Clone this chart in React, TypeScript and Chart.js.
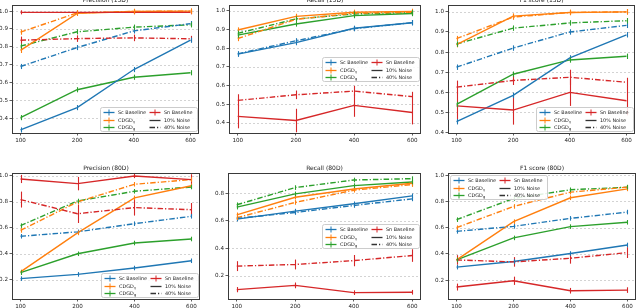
import React, { useEffect, useRef } from "react";
import { Chart, registerables } from "chart.js";
Chart.register(...registerables);

// ---------- data ----------
const sizes = ["100", "200", "400", "600"];
const topTicks = [0.4, 0.5, 0.6, 0.7, 0.8, 0.9, 1.0];
const prec80Ticks = [0.2, 0.4, 0.6, 0.8, 1.0];
const rec80Ticks = [0.2, 0.4, 0.6, 0.8];
const f180Ticks = [0.2, 0.4, 0.6, 0.8, 1.0];
const minorErr = [0.006, 0.006, 0.006, 0.006];

// Precision (15D)
const prec15_sc10 = [0.335, 0.46, 0.673, 0.837];
const prec15_sc40 = [0.69, 0.796, 0.889, 0.93];
const prec15_cg10 = [0.78, 0.987, 0.998, 1.0];
const prec15_cg40 = [0.882, 0.99, 0.998, 1.0];
const prec15_gg10 = [0.404, 0.56, 0.63, 0.655];
const prec15_gg40 = [0.804, 0.884, 0.91, 0.923];
const prec15_sn10 = [0.993, 0.993, 0.993, 0.993];
const prec15_sn40 = [0.837, 0.846, 0.85, 0.845];
const prec15_sn10Err = [0.003, 0.003, 0.003, 0.003];
const prec15_sn40Err = [0.012, 0.01, 0.01, 0.008];

// Recall (15D)
const rec15_sc10 = [0.768, 0.83, 0.907, 0.937];
const rec15_sc40 = [0.77, 0.84, 0.905, 0.937];
const rec15_cg10 = [0.898, 0.971, 0.993, 0.998];
const rec15_cg40 = [0.852, 0.955, 0.988, 0.993];
const rec15_gg10 = [0.87, 0.93, 0.975, 0.986];
const rec15_gg40 = [0.88, 0.957, 0.984, 0.991];
const rec15_sn10 = [0.434, 0.412, 0.493, 0.455];
const rec15_sn40 = [0.52, 0.55, 0.57, 0.54];
const rec15_sn10Err = [0.056, 0.055, 0.053, 0.056];
const rec15_sn40Err = [0.025, 0.015, 0.02, 0.018];

// F1 score (15D)
const f115_sc10 = [0.454, 0.585, 0.771, 0.886];
const f115_sc40 = [0.725, 0.82, 0.9, 0.933];
const f115_cg10 = [0.837, 0.979, 0.997, 1.0];
const f115_cg40 = [0.867, 0.974, 0.997, 1.0];
const f115_gg10 = [0.54, 0.69, 0.761, 0.779];
const f115_gg40 = [0.84, 0.919, 0.945, 0.956];
const f115_sn10 = [0.533, 0.512, 0.6, 0.558];
const f115_sn40 = [0.626, 0.659, 0.675, 0.65];
const f115_sn10Err = [0.06, 0.065, 0.06, 0.065];
const f115_sn40Err = [0.025, 0.015, 0.03, 0.015];

// Precision (80D)
const prec80_sc10 = [0.208, 0.241, 0.29, 0.346];
const prec80_sc40 = [0.535, 0.569, 0.632, 0.689];
const prec80_cg10 = [0.26, 0.561, 0.831, 0.925];
const prec80_cg40 = [0.58, 0.8, 0.936, 0.972];
const prec80_gg10 = [0.254, 0.4, 0.483, 0.514];
const prec80_gg40 = [0.617, 0.807, 0.882, 0.915];
const prec80_sn10 = [0.977, 0.941, 1.0, 0.972];
const prec80_sn40 = [0.818, 0.709, 0.756, 0.74];
const prec80_sn10Err = [0.02, 0.04, 0.005, 0.03];
const prec80_sn40Err = [0.05, 0.06, 0.05, 0.04];

// Recall (80D)
const rec80_sc10 = [0.612, 0.67, 0.723, 0.781];
const rec80_sc40 = [0.617, 0.66, 0.711, 0.759];
const rec80_cg10 = [0.643, 0.771, 0.831, 0.872];
const rec80_cg40 = [0.622, 0.733, 0.822, 0.863];
const rec80_gg10 = [0.699, 0.795, 0.855, 0.882];
const rec80_gg40 = [0.716, 0.841, 0.896, 0.906];
const rec80_sn10 = [0.099, 0.13, 0.077, 0.08];
const rec80_sn40 = [0.27, 0.282, 0.31, 0.347];
const rec80_sn10Err = [0.008, 0.01, 0.006, 0.006];
const rec80_sn40Err = [0.025, 0.025, 0.03, 0.035];

// F1 score (80D)
const f180_sc10 = [0.299, 0.342, 0.403, 0.468];
const f180_sc40 = [0.572, 0.61, 0.671, 0.719];
const f180_cg10 = [0.355, 0.646, 0.828, 0.896];
const f180_cg40 = [0.6, 0.762, 0.871, 0.909];
const f180_gg10 = [0.354, 0.522, 0.608, 0.641];
const f180_gg40 = [0.661, 0.823, 0.889, 0.909];
const f180_sn10 = [0.147, 0.195, 0.119, 0.124];
const f180_sn40 = [0.354, 0.339, 0.367, 0.41];
const f180_sn10Err = [0.015, 0.02, 0.01, 0.01];
const f180_sn40Err = [0.025, 0.025, 0.03, 0.03];

// ---------- styling ----------
const BLUE = "#1f77b4";
const ORANGE = "#ff7f0e";
const GREEN = "#2ca02c";
const RED = "#d62728";
const DASHDOT = [5.5, 2, 1.2, 2];
const FONT = "'DejaVu Sans', sans-serif";

type PanelCfg = {
  title: string;
  rowTop: number;
  L: number; T: number; R: number; B: number;
  yMin: number; yMax: number; yTicks: number[];
  legend: "lr" | "cr" | "ul";
  series: { color: string; dash: boolean; values: number[]; errs: number[] }[];
};

function makeSeries(sc10: number[], sc40: number[], cg10: number[], cg40: number[], gg10: number[], gg40: number[], sn10: number[], sn40: number[], sn10Err: number[], sn40Err: number[]) {
  return [
    { color: RED, dash: false, values: sn10, errs: sn10Err },
    { color: RED, dash: true, values: sn40, errs: sn40Err },
    { color: BLUE, dash: false, values: sc10, errs: minorErr },
    { color: BLUE, dash: true, values: sc40, errs: minorErr },
    { color: ORANGE, dash: false, values: cg10, errs: minorErr },
    { color: ORANGE, dash: true, values: cg40, errs: minorErr },
    { color: GREEN, dash: false, values: gg10, errs: minorErr },
    { color: GREEN, dash: true, values: gg40, errs: minorErr },
  ];
}

const panels: PanelCfg[] = [
  { title: "Precision (15D)", rowTop: 0, L: 12, T: 5, R: 199, B: 133, yMin: 0.318, yMax: 1.034, yTicks: topTicks, legend: "lr",
    series: makeSeries(prec15_sc10, prec15_sc40, prec15_cg10, prec15_cg40, prec15_gg10, prec15_gg40, prec15_sn10, prec15_sn40, prec15_sn10Err, prec15_sn40Err) },
  { title: "Recall (15D)", rowTop: 0, L: 229, T: 5, R: 421, B: 133, yMin: 0.345, yMax: 1.032, yTicks: topTicks, legend: "cr",
    series: makeSeries(rec15_sc10, rec15_sc40, rec15_cg10, rec15_cg40, rec15_gg10, rec15_gg40, rec15_sn10, rec15_sn40, rec15_sn10Err, rec15_sn40Err) },
  { title: "F1 score (15D)", rowTop: 0, L: 448, T: 5, R: 635, B: 133, yMin: 0.398, yMax: 1.034, yTicks: topTicks, legend: "lr",
    series: makeSeries(f115_sc10, f115_sc40, f115_cg10, f115_cg40, f115_gg10, f115_gg40, f115_sn10, f115_sn40, f115_sn10Err, f115_sn40Err) },
  { title: "Precision (80D)", rowTop: 154, L: 12, T: 173, R: 200, B: 299, yMin: 0.051, yMax: 1.023, yTicks: prec80Ticks, legend: "lr",
    series: makeSeries(prec80_sc10, prec80_sc40, prec80_cg10, prec80_cg40, prec80_gg10, prec80_gg40, prec80_sn10, prec80_sn40, prec80_sn10Err, prec80_sn40Err) },
  { title: "Recall (80D)", rowTop: 154, L: 228, T: 173, R: 421, B: 299, yMin: 0.031, yMax: 0.947, yTicks: rec80Ticks, legend: "cr",
    series: makeSeries(rec80_sc10, rec80_sc40, rec80_cg10, rec80_cg40, rec80_gg10, rec80_gg40, rec80_sn10, rec80_sn40, rec80_sn10Err, rec80_sn40Err) },
  { title: "F1 score (80D)", rowTop: 154, L: 448, T: 173, R: 636, B: 299, yMin: 0.056, yMax: 1.017, yTicks: f180Ticks, legend: "ul",
    series: makeSeries(f180_sc10, f180_sc40, f180_cg10, f180_cg40, f180_gg10, f180_gg40, f180_sn10, f180_sn40, f180_sn10Err, f180_sn40Err) },
];

const Y_AXIS_W = 30;
const X_AXIS_H = 14;
const RIGHT_PAD = 4;

const decorPlugin = {
  id: "decor",
  beforeDatasetsDraw(chart: any, _args: any, opts: any) {
    const { ctx, chartArea: a, scales } = chart;
    const y = scales.y;
    ctx.save();
    ctx.strokeStyle = "#c8c8c8";
    ctx.lineWidth = 0.8;
    ctx.setLineDash([2, 2]);
    for (const t of opts.yTicks) {
      const py = Math.round(y.getPixelForValue(t)) + 0.5;
      ctx.beginPath();
      ctx.moveTo(a.left, py);
      ctx.lineTo(a.right, py);
      ctx.stroke();
    }
    ctx.restore();
  },
  afterDatasetsDraw(chart: any, _args: any, opts: any) {
    const { ctx, chartArea: a, scales } = chart;
    const y = scales.y;
    ctx.save();
    // error bars
    chart.data.datasets.forEach((ds: any, i: number) => {
      const meta = chart.getDatasetMeta(i);
      ctx.strokeStyle = ds.borderColor;
      ctx.lineWidth = 1.1;
      ctx.setLineDash([]);
      meta.data.forEach((pt: any, j: number) => {
        const v = ds.data[j].y;
        const e = ds.errs[j];
        const x = Math.round(pt.x) + 0.5;
        ctx.beginPath();
        ctx.moveTo(x, y.getPixelForValue(v - e) + 1.5);
        ctx.lineTo(x, y.getPixelForValue(v + e) - 1.5);
        ctx.stroke();
      });
    });
    // frame
    ctx.strokeStyle = "#3a3a3a";
    ctx.lineWidth = 1;
    ctx.setLineDash([]);
    ctx.strokeRect(Math.round(a.left) + 0.5, Math.round(a.top) + 0.5, Math.round(a.right - a.left) - 1, Math.round(a.bottom - a.top));
    // title
    ctx.fillStyle = "#222";
    ctx.font = `6px ${FONT}`;
    ctx.textAlign = "center";
    ctx.textBaseline = "middle";
    ctx.fillText(opts.title, (a.left + a.right) / 2, a.top - 4.5);
    // legend
    const W = 97, H = 24;
    let lx = a.right - 2 - W, ly = a.bottom - 2 - H;
    if (opts.legend === "cr") { ly = (a.top + a.bottom) / 2 - H / 2; }
    if (opts.legend === "ul") { lx = a.left + 2; ly = a.top + 2; }
    lx = Math.round(lx) + 0.5; ly = Math.round(ly) + 0.5;
    ctx.fillStyle = "rgba(255,255,255,0.85)";
    ctx.strokeStyle = "#cccccc";
    ctx.lineWidth = 1;
    ctx.beginPath();
    ctx.roundRect(lx, ly, W, H, 2);
    ctx.fill();
    ctx.stroke();
    const rows = [ly + 4.5, ly + 12, ly + 19.5];
    const entries = [
      { col: 0, row: 0, color: BLUE, kind: "err", label: "Sc Baseline", sub: "" },
      { col: 0, row: 1, color: ORANGE, kind: "err", label: "CDGD", sub: "γ" },
      { col: 0, row: 2, color: GREEN, kind: "err", label: "CDGD", sub: "g" },
      { col: 1, row: 0, color: RED, kind: "err", label: "Sn Baseline", sub: "" },
      { col: 1, row: 1, color: "#333", kind: "solid", label: "10% Noise", sub: "" },
      { col: 1, row: 2, color: "#333", kind: "dash", label: "40% Noise", sub: "" },
    ];
    for (const en of entries) {
      const hx = lx + 3 + en.col * 46;
      const hy = Math.round(rows[en.row]) + 0.5;
      ctx.strokeStyle = en.color;
      ctx.lineWidth = 1.3;
      ctx.setLineDash(en.kind === "dash" ? DASHDOT : []);
      ctx.beginPath();
      ctx.moveTo(hx, hy);
      ctx.lineTo(hx + 11, hy);
      ctx.stroke();
      ctx.setLineDash([]);
      if (en.kind === "err") {
        ctx.lineWidth = 1;
        ctx.beginPath();
        ctx.moveTo(hx + 5.5, hy - 3);
        ctx.lineTo(hx + 5.5, hy + 3);
        ctx.stroke();
      }
      ctx.fillStyle = "#222";
      ctx.font = `4.9px ${FONT}`;
      ctx.textAlign = "left";
      ctx.textBaseline = "middle";
      const tx = hx + 14.5;
      ctx.fillText(en.label, tx, hy);
      if (en.sub) {
        const w = ctx.measureText(en.label).width;
        ctx.font = `3.6px ${FONT}`;
        ctx.fillText(en.sub, tx + w + 0.3, hy + 1.5);
      }
    }
    ctx.restore();
  },
};

function Panel({ cfg }: { cfg: PanelCfg }) {
  const ref = useRef<HTMLCanvasElement | null>(null);
  const width = cfg.R - cfg.L + Y_AXIS_W + RIGHT_PAD;
  const height = cfg.B - cfg.rowTop + X_AXIS_H;
  useEffect(() => {
    if (!ref.current) return;
    const chart = new Chart(ref.current, {
      type: "line",
      data: {
        datasets: cfg.series.map((s) => ({
          data: s.values.map((v, i) => ({ x: i, y: v })),
          errs: s.errs,
          borderColor: s.color,
          backgroundColor: s.color,
          borderWidth: 1.4,
          borderDash: s.dash ? DASHDOT : [],
          pointRadius: 0,
          fill: false,
          tension: 0,
        })) as any,
      },
      options: {
        animation: false,
        responsive: false,
        devicePixelRatio: 1,
        layout: { padding: { top: cfg.T - cfg.rowTop, right: RIGHT_PAD, left: 0, bottom: 0 } },
        plugins: {
          legend: { display: false },
          tooltip: { enabled: false },
          decor: { title: cfg.title, yTicks: cfg.yTicks, legend: cfg.legend },
        } as any,
        scales: {
          x: {
            type: "linear",
            min: -0.15,
            max: 3.15,
            afterBuildTicks: (s: any) => { s.ticks = sizes.map((_, i) => ({ value: i })); },
            afterFit: (s: any) => { s.height = X_AXIS_H; },
            ticks: {
              callback: (v: any) => sizes[v as number] ?? "",
              font: { family: FONT, size: 5.6 },
              color: "#222",
              padding: 1.5,
              maxRotation: 0,
              autoSkip: false,
            },
            grid: { display: true, drawOnChartArea: false, drawTicks: true, tickLength: 2.5, tickColor: "#333", tickWidth: 0.8 },
            border: { display: false },
          },
          y: {
            type: "linear",
            min: cfg.yMin,
            max: cfg.yMax,
            afterBuildTicks: (s: any) => { s.ticks = cfg.yTicks.map((v) => ({ value: v })); },
            afterFit: (s: any) => { s.width = Y_AXIS_W; },
            ticks: {
              callback: (v: any) => Number(v).toFixed(1),
              font: { family: FONT, size: 5.6 },
              color: "#222",
              padding: 1.5,
              autoSkip: false,
            },
            grid: { display: true, drawOnChartArea: false, drawTicks: true, tickLength: 2.5, tickColor: "#333", tickWidth: 0.8 },
            border: { display: false },
          },
        },
      },
      plugins: [decorPlugin],
    });
    return () => chart.destroy();
  }, [cfg]);
  return (
    <canvas
      ref={ref}
      width={width}
      height={height}
      style={{ position: "absolute", left: cfg.L - Y_AXIS_W, top: cfg.rowTop, width, height }}
    />
  );
}

export default function App() {
  return (
    <div style={{ position: "absolute", left: 0, top: 0, width: 640, height: 308, overflow: "hidden", background: "#fff" }}>
      {panels.map((p, i) => (
        <Panel key={i} cfg={p} />
      ))}
    </div>
  );
}
